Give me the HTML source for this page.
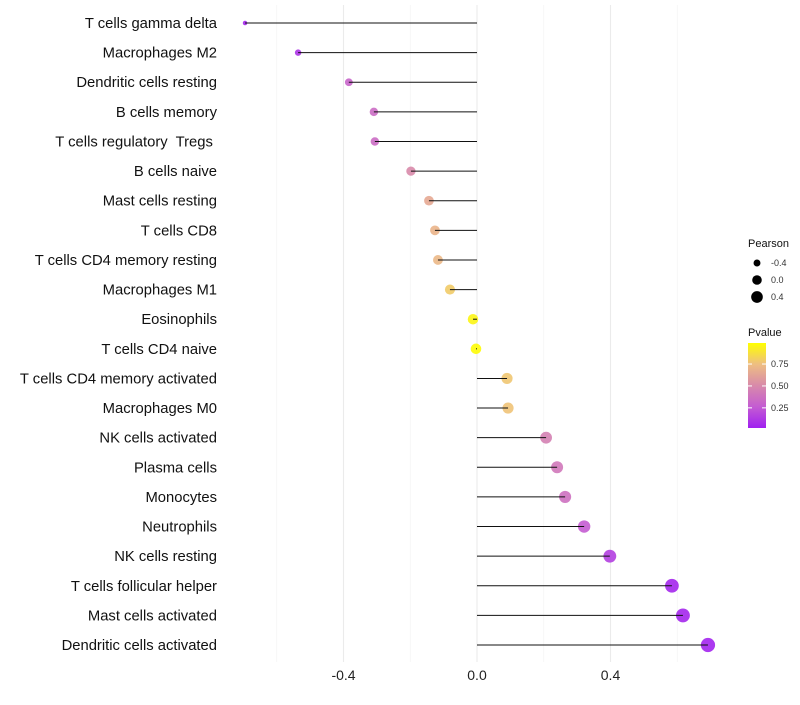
<!DOCTYPE html>
<html><head><meta charset="utf-8"><style>
body{margin:0;background:#fff;font-family:"Liberation Sans",sans-serif;}
svg text{font-family:"Liberation Sans",sans-serif;white-space:pre;}
</style></head><body>
<svg id="chart" width="800" height="700" xmlns="http://www.w3.org/2000/svg"></svg>
<script>
const categories=["T cells gamma delta","Macrophages M2","Dendritic cells resting","B cells memory","T cells regulatory  Tregs ","B cells naive","Mast cells resting","T cells CD8","T cells CD4 memory resting","Macrophages M1","Eosinophils","T cells CD4 naive","T cells CD4 memory activated","Macrophages M0","NK cells activated","Plasma cells","Monocytes","Neutrophils","NK cells resting","T cells follicular helper","Mast cells activated","Dendritic cells activated"];
const pearson=[-0.695,-0.536,-0.384,-0.309,-0.306,-0.198,-0.144,-0.126,-0.117,-0.081,-0.012,-0.003,0.090,0.093,0.207,0.240,0.264,0.321,0.398,0.584,0.617,0.692];
const pvalue=[0.03,0.08,0.3,0.34,0.34,0.5,0.65,0.7,0.72,0.8,0.96,0.99,0.78,0.77,0.45,0.4,0.36,0.25,0.13,0.03,0.03,0.02];
const xTicks=[-0.4,0,0.4];
const xMinor=[-0.6,-0.2,0.2,0.6];
const sizeLegend=[-0.4,0,0.4];
const pTicks=[0.25,0.5,0.75];
const NS="http://www.w3.org/2000/svg";
const svg=document.getElementById('chart');
function el(t,a,p){const e=document.createElementNS(NS,t);for(const k in a)e.setAttribute(k,a[k]);(p||svg).appendChild(e);return e;}
const x=v=>477+v*333.75;
const y=i=>23+i*29.62;
const r=v=>Math.sqrt(Math.max(2.25,28+33*v));
const rl=v=>Math.sqrt(Math.max(2,23+27.5*v));
const stops=[[0,[160,32,240]],[0.25,[196,92,210]],[0.5,[216,138,170]],[0.75,[238,190,130]],[1,[255,255,0]]];
function col(p){p=Math.max(0,Math.min(1,p));for(let i=1;i<stops.length;i++){if(p<=stops[i][0]){const a=stops[i-1],b=stops[i],t=(p-a[0])/(b[0]-a[0]);const c=a[1].map((v,k)=>Math.round(v+(b[1][k]-v)*t));return `rgb(${c})`;}}return 'rgb(255,255,0)';}
xMinor.forEach(v=>{const g=el('line',{x1:x(v),x2:x(v),y1:5,y2:662,stroke:'#f2f2f2','stroke-width':0.6});});
xTicks.forEach(v=>{const g=el('line',{x1:x(v),x2:x(v),y1:5,y2:662,stroke:'#ebebeb','stroke-width':1.1});
const t=el('text',{x:x(v),y:680,'text-anchor':'middle','font-size':14,fill:'#222'});t.textContent=(v===0?'0.0':v.toFixed(1));});
categories.forEach((c,i)=>{
const t=el('text',{x:217,y:y(i)+5,'text-anchor':'end','font-size':14.8,fill:'#111'});t.textContent=c;
const cc=el('circle',{cx:x(pearson[i]),cy:y(i),r:r(pearson[i]),fill:col(pvalue[i]),'fill-opacity':0.9});
const l=el('line',{x1:x(0),x2:x(pearson[i]),y1:y(i),y2:y(i),stroke:'#111','stroke-width':1});
});
let t=el('text',{x:748,y:247,'font-size':11,fill:'#111'});t.textContent='Pearson';
sizeLegend.forEach((v,k)=>{const cy=263+k*17;const c=el('circle',{cx:757,cy:cy,r:rl(v),fill:'#000'});
const tt=el('text',{x:771,y:cy+3,'font-size':9,fill:'#333'});tt.textContent=(v===0?'0.0':v.toFixed(1));});
t=el('text',{x:748,y:336,'font-size':11,fill:'#111'});t.textContent='Pvalue';
const defs=el('defs',{});const g=el('linearGradient',{id:'pg',x1:0,y1:1,x2:0,y2:0},defs);
stops.forEach(s=>el('stop',{offset:s[0],'stop-color':`rgb(${s[1]})`},g));
const pv=v=>428-(v-0.02)/(0.99-0.02)*85;
const bar=el('rect',{x:748,y:343,width:18,height:85,fill:'url(#pg)'});
pTicks.forEach(v=>{el('line',{x1:748,x2:752,y1:pv(v),y2:pv(v),stroke:'#fff'});el('line',{x1:762,x2:766,y1:pv(v),y2:pv(v),stroke:'#fff'});
const tt=el('text',{x:771,y:pv(v)+3,'font-size':9,fill:'#333'});tt.textContent=v.toFixed(2);});
</script>
</body></html>
